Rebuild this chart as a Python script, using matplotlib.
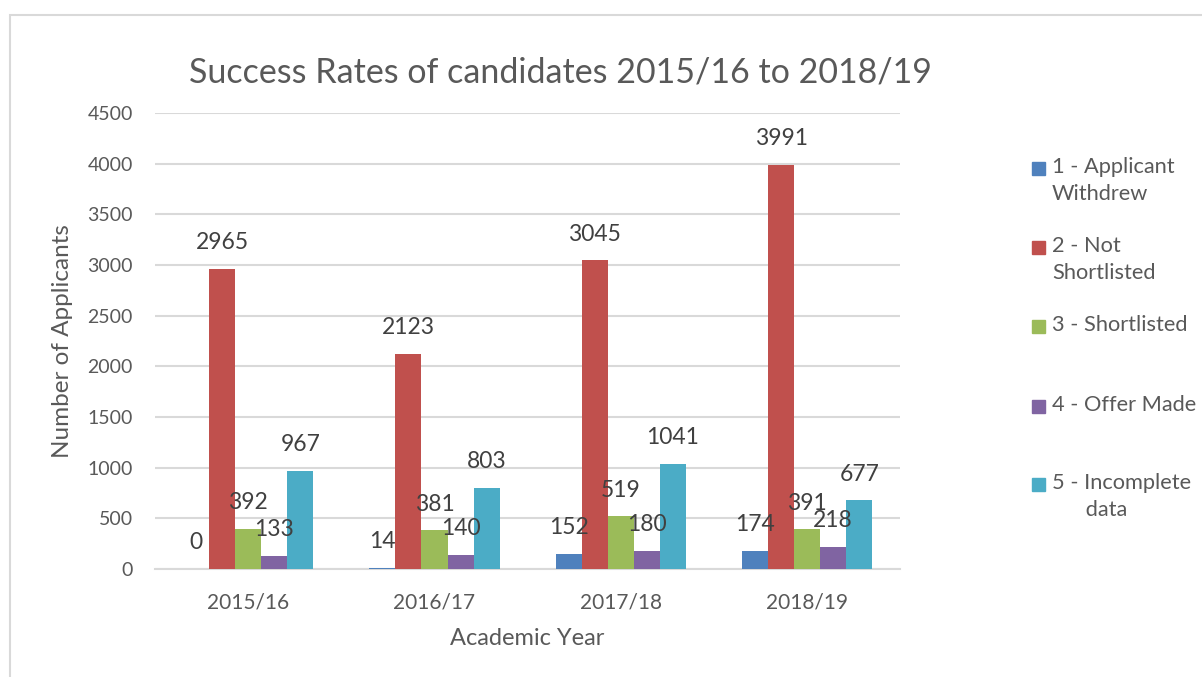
import matplotlib.pyplot as plt
import numpy as np
from matplotlib.patches import Rectangle

plt.rcParams['font.family'] = ['Lato', 'DejaVu Sans']

years = ["2015/16", "2016/17", "2017/18", "2018/19"]
series_names = ["1 - Applicant\nWithdrew", "2 - Not\nShortlisted", "3 - Shortlisted",
                "4 - Offer Made", "5 - Incomplete\n      data"]
withdrew = [0, 14, 152, 174]
not_shortlisted = [2965, 2123, 3045, 3991]
shortlisted = [392, 381, 519, 391]
offer_made = [133, 140, 180, 218]
incomplete = [967, 803, 1041, 677]
colors = ["#4F81BD", "#C0504D", "#9BBB59", "#8064A2", "#4BACC6"]
y_ticks = [0, 500, 1000, 1500, 2000, 2500, 3000, 3500, 4000, 4500]

txt = "#595959"
series = [withdrew, not_shortlisted, shortlisted, offer_made, incomplete]

fig = plt.figure(figsize=(12.02, 6.77), dpi=100)
ax = fig.add_axes([0.129, 0.1595, 0.62, 0.6735])

x = np.arange(len(years))
w = 0.14
for i, vals in enumerate(series):
    pos = x + (i - 2) * w
    ax.bar(pos, vals, width=w, color=colors[i], zorder=3)
    for px, v in zip(pos, vals):
        ax.annotate(str(v), (px, v), xytext=(0, 19), textcoords="offset points",
                    ha="center", va="center", fontsize=16.5, color="#404040", zorder=4)

ax.set_ylim(0, 4500)
ax.set_xlim(-0.5, len(years) - 0.5)
ax.set_yticks(y_ticks)
ax.set_xticks(x)
ax.set_xticklabels(years)
ax.tick_params(axis="y", length=0, labelsize=14, colors=txt, pad=16)
ax.tick_params(axis="x", length=0, labelsize=15, colors=txt, pad=17)
ax.grid(axis="y", color="#D9D9D9", linewidth=1.5, zorder=0)
for s in ["top", "right", "left"]:
    ax.spines[s].set_visible(False)
ax.spines["bottom"].set_color("#D9D9D9")
ax.spines["bottom"].set_linewidth(1.5)

ax.set_ylabel("Number of Applicants", fontsize=17.5, color=txt, labelpad=10)
ax.set_xlabel("Academic Year", fontsize=17, color=txt, labelpad=11)
fig.text(0.466, 0.893, "Success Rates of candidates 2015/16 to 2018/19",
         ha="center", va="center", fontsize=24.5, color=txt)

# legend drawn by hand so the marker lines up with the first text line
leg_y = [169, 248, 327, 407, 485]
for name, c, yy in zip(series_names, colors, leg_y):
    fy = 1 - yy / 677
    fig.patches.append(Rectangle((1032 / 1202, fy - 6 / 677), 13 / 1202, 13 / 677,
                                 transform=fig.transFigure, color=c))
    fig.text(1052 / 1202, fy + 12 / 677, name, ha="left", va="top", fontsize=15.7,
             color=txt, linespacing=1.45)

fig.patches.append(Rectangle((10 / 1202, -0.05), 1.2, 1 - 15 / 677 + 0.05,
                             transform=fig.transFigure, fill=False,
                             edgecolor="#D9D9D9", linewidth=1.5))

fig.savefig("out.png", dpi=100)
